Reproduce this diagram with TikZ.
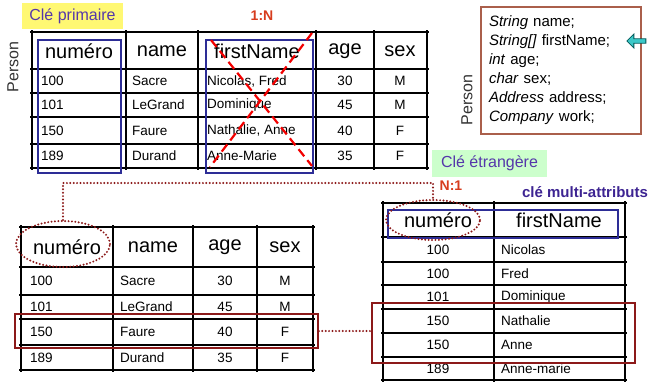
\documentclass[tikz,border=0pt]{standalone}
\usepackage{fontspec}
\setmainfont{Liberation Sans}
\usepackage{xcolor}
\usetikzlibrary{shapes,positioning}

\definecolor{keyblue}{RGB}{45,45,150}
\definecolor{fkred}{RGB}{140,25,25}
\definecolor{labelviolet}{RGB}{85,55,170}
\definecolor{cardred}{RGB}{215,60,30}
\definecolor{boxbrown}{RGB}{170,95,75}
\definecolor{ptrcyan}{RGB}{60,200,200}

\begin{document}
\begin{tikzpicture}[x=1pt,y=-1pt]
      \tikzstyle{grid} = [line width=1.4pt, black]
      \tikzstyle{head} = [inner sep=0pt, font=\fontsize{20}{22}\selectfont]
      \tikzstyle{cell} = [inner sep=0pt, font=\fontsize{13.5}{15}\selectfont]
      \tikzstyle{lcell} = [cell, anchor=west]
      \tikzstyle{keybox} = [draw=keyblue, line width=1.8pt, inner sep=0pt]
      \tikzstyle{rowbox} = [draw=fkred, line width=1.8pt, inner sep=0pt]
      \tikzstyle{fkring} = [ellipse, draw=fkred, line width=2.2pt, line cap=round, dash pattern=on 0pt off 3.4pt, inner sep=0pt]
      \tikzstyle{fk} = [draw=fkred, line width=2.2pt, line cap=round, dash pattern=on 0pt off 3.4pt]
      \tikzstyle{tag} = [inner sep=0pt, text=labelviolet, font=\fontsize{16}{18}\selectfont]
      \tikzstyle{card} = [inner sep=0pt, text=cardred, font=\bfseries\fontsize{14}{16}\selectfont]
      \tikzstyle{side} = [inner sep=0pt, rotate=90, text=black!80, font=\fontsize{16}{18}\selectfont]

      \useasboundingbox (0,0) rectangle (656,381);
      \clip (0,0) rectangle (656,381);

      % table Person with firstName as one column
      \draw[grid] (32,30) -- (32,170) (126,30) -- (126,170) (198,30) -- (198,170)
        (316,30) -- (316,170) (374,30) -- (374,170) (427,30) -- (427,170);
      \draw[grid] (30,32) -- (429,32) (30,69) -- (429,69) (30,93) -- (429,93)
        (30,117) -- (429,117) (30,144) -- (429,144) (30,168) -- (429,168);

      \node[head] (hnum) at (79,51) {numéro};
      \node[head] (hname) at (162,51) {name};
      \node[head] (hfn) at (257,51) {firstName};
      \node[head] (hage) at (345,51) {age};
      \node[head] (hsex) at (400,51) {sex};

      \node[lcell] (n1) at (41,81) {100};
      \node[lcell] (nm1) at (132,81) {Sacre};
      \node[lcell] (fn1) at (207,81) {Nicolas, Fred};
      \node[cell] (ag1) at (345,81) {30};
      \node[cell] (sx1) at (400,81) {M};
      \node[lcell] (n2) at (41,105) {101};
      \node[lcell] (nm2) at (132,105) {LeGrand};
      \node[lcell] (fn2) at (207,105) {Dominique};
      \node[cell] (ag2) at (345,105) {45};
      \node[cell] (sx2) at (400,105) {M};
      \node[lcell] (n3) at (41,130.5) {150};
      \node[lcell] (nm3) at (132,130.5) {Faure};
      \node[lcell] (fn3) at (207,130.5) {Nathalie, Anne};
      \node[cell] (ag3) at (345,130.5) {40};
      \node[cell] (sx3) at (400,130.5) {F};
      \node[lcell] (n4) at (41,156) {189};
      \node[lcell] (nm4) at (132,156) {Durand};
      \node[lcell] (fn4) at (207,156) {Anne-Marie};
      \node[cell] (ag4) at (345,156) {35};
      \node[cell] (sx4) at (400,156) {F};

      \node[keybox, minimum width=83, minimum height=133] (pkbox) at (79.5,106.5) {};
      \node[keybox, minimum width=107, minimum height=133] (fnbox) at (259.5,106.5) {};
      \draw[red!95!black, line width=2.2pt, dash pattern=on 9pt off 5pt] (211,40) -- (312,166);
      \draw[red!95!black, line width=2.2pt, dash pattern=on 9pt off 5pt] (312,33) -- (210,167);

      \node[side] (person1) at (13,67) {Person};
      \node[tag, fill=yellow!55, minimum width=101, minimum height=26] (pk) at (72.5,16) {Clé primaire};
      \node[card] (onen) at (262,16) {1:N};

      % java class
      \node[draw=boxbrown, line width=1.5pt, inner xsep=8pt, text width=144pt, minimum height=127pt,
        align=left, font=\fontsize{15}{19}\selectfont] (decl) at (561,70.5)
        {\textit{String} name;\\\textit{String[]} firstName;\\\textit{int} age;\\\textit{char} sex;\\
         \textit{Address} address;\\\textit{Company} work;};
      \node[side] (person2) at (467,100) {Person};
      \node[single arrow, draw=teal!70!black, fill=ptrcyan, line width=0.8pt, shape border rotate=180,
        minimum height=19pt, minimum width=14pt, single arrow head extend=3pt, inner sep=1pt] (ptr) at (637.5,41) {};

      % table Person without firstName
      \draw[grid] (21,225) -- (21,372) (113,225) -- (113,372) (193,225) -- (193,372)
        (257,225) -- (257,372) (313,225) -- (313,372);
      \draw[grid] (19,227) -- (315,227) (19,267) -- (315,267) (19,295) -- (315,295)
        (19,319) -- (315,319) (19,345) -- (315,345) (19,370) -- (315,370);

      \node[head] (bhnum) at (67,247) {numéro};
      \node[head] (bhname) at (153,247) {name};
      \node[head] (bhage) at (225,247) {age};
      \node[head] (bhsex) at (285,247) {sex};

      \node[lcell] (bn1) at (30,281) {100};
      \node[lcell] (bnm1) at (120,281) {Sacre};
      \node[cell] (bag1) at (225,281) {30};
      \node[cell] (bsx1) at (285,281) {M};
      \node[lcell] (bn2) at (30,307) {101};
      \node[lcell] (bnm2) at (120,307) {LeGrand};
      \node[cell] (bag2) at (225,307) {45};
      \node[cell] (bsx2) at (285,307) {M};
      \node[lcell] (bn3) at (30,332) {150};
      \node[lcell] (bnm3) at (120,332) {Faure};
      \node[cell] (bag3) at (225,332) {40};
      \node[cell] (bsx3) at (285,332) {F};
      \node[lcell] (bn4) at (30,357.5) {189};
      \node[lcell] (bnm4) at (120,357.5) {Durand};
      \node[cell] (bag4) at (225,357.5) {35};
      \node[cell] (bsx4) at (285,357.5) {F};

      \node[fkring, minimum width=94, minimum height=46] (ellL) at (63,244) {};
      \node[rowbox, minimum width=303, minimum height=34] (rowL) at (166.5,331) {};

      % table FirstName
      \draw[grid] (383,201) -- (383,383) (494,201) -- (494,383) (625,201) -- (625,383);
      \draw[grid] (381,203) -- (627,203) (381,237) -- (627,237) (381,262) -- (627,262)
        (381,285) -- (627,285) (381,309) -- (627,309) (381,333) -- (627,333)
        (381,357) -- (627,357) (381,380) -- (627,380);

      \node[head] (rhnum) at (438,220) {numéro};
      \node[head] (rhfn) at (559,220) {firstName};

      \node[cell] (rn1) at (438,249.5) {100};
      \node[lcell] (rf1) at (501,249.5) {Nicolas};
      \node[cell] (rn2) at (438,273.5) {100};
      \node[lcell] (rf2) at (501,273.5) {Fred};
      \node[cell] (rn3) at (438,297) {101};
      \node[lcell] (rf3) at (501,297) {Dominique};
      \node[cell] (rn4) at (438,321) {150};
      \node[lcell] (rf4) at (501,321) {Nathalie};
      \node[cell] (rn5) at (438,345) {150};
      \node[lcell] (rf5) at (501,345) {Anne};
      \node[cell] (rn6) at (438,369) {189};
      \node[lcell] (rf6) at (501,369) {Anne-marie};

      \node[keybox, minimum width=230, minimum height=28] (mkbox) at (503,224) {};
      \node[fkring, minimum width=94, minimum height=40] (ellR) at (433,220) {};
      \node[rowbox, minimum width=263, minimum height=60] (rowR) at (503.5,333) {};

      \node[tag, fill=green!20, minimum width=115, minimum height=27] (fkey) at (489.5,163.5) {Clé étrangère};
      \node[card] (none) at (451,186) {N:1};
      \node[inner sep=0pt, text=keyblue!80!violet, font=\bfseries\fontsize{15}{17}\selectfont] (multi) at (585,192) {clé multi-attributs};

      % connections
      \coordinate (fkbend) at (433,183);
      \draw[fk] (ellL.north) |- (fkbend) -- (ellR.north);
      \draw[fk] (rowL.east) -- (rowL.east -| rowR.west);
\end{tikzpicture}
\end{document}
